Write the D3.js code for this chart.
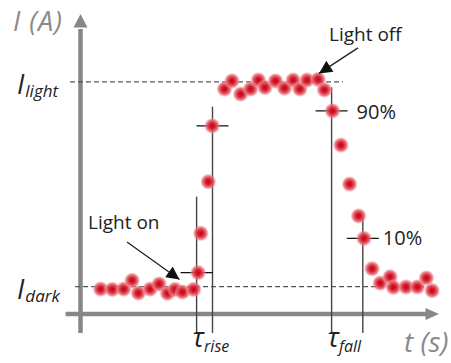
<!DOCTYPE html>
<html>
<head>
<meta charset="utf-8">
<script src="https://cdn.jsdelivr.net/npm/d3@7"></script>
<style>
  body { margin: 0; background: #fff; }
  svg { display: block; font-family: "Open Sans", "Noto Sans", sans-serif; }
</style>
</head>
<body>
<div id="chart"></div>
<script>
// photocurrent samples (arbitrary units)
const times = [0.67, 1.06, 1.44, 1.72, 1.93, 2.32, 2.62, 2.90, 3.15, 3.40, 3.77,
  3.92, 4.01, 4.26, 4.39,
  4.80, 5.05, 5.34, 5.67, 5.93, 6.15, 6.50, 6.80, 7.09, 7.31, 7.55, 7.92, 8.13,
  8.40, 8.68, 8.97, 9.27, 9.45, 9.72, 9.99, 10.32, 10.43, 10.85, 11.23, 11.53, 11.72];
const currents = [0.83, 0.82, 0.83, 1.12, 0.70, 0.83, 1.00, 0.69, 0.82, 0.73, 0.82,
  1.38, 2.69, 4.41, 6.27,
  7.50, 7.77, 7.33, 7.50, 7.80, 7.55, 7.77, 7.53, 7.80, 7.50, 7.80, 7.82, 7.47,
  6.77, 5.63, 4.33, 3.27, 2.52, 1.51, 1.03, 1.24, 0.89, 0.90, 0.90, 1.20, 0.78];

// reference levels
const levelNames = ["light", "dark"];
const levelValues = [7.74, 0.91];
const levelStart = [-0.35, -0.18];
const levelEnd = [8.75, 11.75];

// 10% / 90% crosshairs
const markerTimes = [3.87, 4.40, 8.37, 9.41];
const markerLevels = [1.38, 6.27, 6.77, 2.52];
const markerTops = [3.91, 6.91, 7.56, 3.21];
const markerBottom = -0.63;

// annotations
const noteTexts = ["Light on", "Light off"];
const noteTail = [[1.55, 2.40], [9.25, 8.87]];
const noteTip = [[3.30, 1.15], [7.95, 8.02]];

const width = 451, height = 363;

const x = d3.scaleLinear().domain([0, 12]).range([80.5, 440.5]);
const y = d3.scaleLinear().domain([0, 10]).range([314, 14]);

const svg = d3.select("#chart").append("svg")
  .attr("width", width)
  .attr("height", height);

const defs = svg.append("defs");
const grad = defs.append("radialGradient").attr("id", "dot");
grad.append("stop").attr("offset", "0%").attr("stop-color", "#c00015");
grad.append("stop").attr("offset", "40%").attr("stop-color", "#d82838");
grad.append("stop").attr("offset", "75%").attr("stop-color", "#e66670").attr("stop-opacity", 0.8);
grad.append("stop").attr("offset", "100%").attr("stop-color", "#f2a8ae").attr("stop-opacity", 0.15);

defs.append("marker")
  .attr("id", "head")
  .attr("viewBox", "0 0 10 10")
  .attr("refX", 10).attr("refY", 5)
  .attr("markerUnits", "userSpaceOnUse")
  .attr("markerWidth", 14).attr("markerHeight", 13)
  .attr("orient", "auto")
  .append("path")
  .attr("d", "M0,0 L10,5 L0,10 Z")
  .attr("fill", "#111");

// axes
const axisColor = "#878787";
svg.append("line")
  .attr("x1", x(0)).attr("x2", x(0))
  .attr("y1", y(-0.63)).attr("y2", y(9.5))
  .attr("stroke", axisColor).attr("stroke-width", 4.5);
svg.append("path")
  .attr("d", `M${x(0) - 7},${y(9.55)} L${x(0)},${y(10)} L${x(0) + 7},${y(9.55)} Z`)
  .attr("fill", axisColor);
svg.append("line")
  .attr("x1", x(-0.5)).attr("x2", x(11.55))
  .attr("y1", y(0)).attr("y2", y(0))
  .attr("stroke", axisColor).attr("stroke-width", 4.5);
svg.append("path")
  .attr("d", `M${x(11.5)},${y(0) - 6} L${x(11.95)},${y(0)} L${x(11.5)},${y(0) + 6} Z`)
  .attr("fill", axisColor);

svg.append("text")
  .attr("x", 13).attr("y", 31)
  .attr("font-size", 27).attr("font-style", "italic")
  .attr("letter-spacing", 1)
  .attr("fill", "#8a8a8a")
  .text("I (A)");
svg.append("text")
  .attr("x", 404).attr("y", 352)
  .attr("font-size", 28).attr("font-style", "italic")
  .attr("fill", "#8a8a8a")
  .text("t (s)");

// dashed level lines
svg.selectAll(".level")
  .data(levelValues)
  .join("line")
  .attr("class", "level")
  .attr("x1", (d, i) => x(levelStart[i]))
  .attr("x2", (d, i) => x(levelEnd[i]))
  .attr("y1", d => y(d)).attr("y2", d => y(d))
  .attr("stroke", "#555").attr("stroke-width", 1.2)
  .attr("stroke-dasharray", "5,3");

const levelLabel = svg.selectAll(".level-label")
  .data(levelValues)
  .join("text")
  .attr("class", "level-label")
  .attr("x", 17)
  .attr("y", d => y(d) + 12)
  .attr("font-style", "italic")
  .attr("fill", "#222");
levelLabel.append("tspan").attr("font-size", 27).text("I");
levelLabel.append("tspan").attr("font-size", 17).attr("dx", 1).attr("dy", 3)
  .text((d, i) => levelNames[i]);

// crosshair lines
svg.selectAll(".mv")
  .data(markerTimes)
  .join("line")
  .attr("class", "mv")
  .attr("x1", d => x(d)).attr("x2", d => x(d))
  .attr("y1", (d, i) => y(markerTops[i]))
  .attr("y2", y(markerBottom))
  .attr("stroke", "#444").attr("stroke-width", 1.4);
svg.selectAll(".mh")
  .data(markerTimes)
  .join("line")
  .attr("class", "mh")
  .attr("x1", d => x(d) - 16).attr("x2", d => x(d) + 16)
  .attr("y1", (d, i) => y(markerLevels[i]))
  .attr("y2", (d, i) => y(markerLevels[i]))
  .attr("stroke", "#111").attr("stroke-width", 1.4);

// data points
svg.selectAll(".pt")
  .data(times)
  .join("circle")
  .attr("class", "pt")
  .attr("cx", d => x(d))
  .attr("cy", (d, i) => y(currents[i]))
  .attr("r", 8)
  .attr("fill", "url(#dot)");

// percent labels
svg.append("text")
  .attr("x", x(markerTimes[2]) + 25).attr("y", y(markerLevels[2]) + 8)
  .attr("font-size", 20).attr("fill", "#222")
  .text("90%");
svg.append("text")
  .attr("x", x(markerTimes[3]) + 20).attr("y", y(markerLevels[3]) + 7)
  .attr("font-size", 20).attr("fill", "#222")
  .text("10%");

// tau labels
const tauNames = ["rise", "fall"];
const tauTimes = [markerTimes[0], markerTimes[2]];
const tau = svg.selectAll(".tau")
  .data(tauTimes)
  .join("text")
  .attr("class", "tau")
  .attr("x", d => x(d) - 4)
  .attr("y", 347)
  .attr("font-style", "italic")
  .attr("fill", "#222");
tau.append("tspan").attr("font-size", 27).text("τ");
tau.append("tspan").attr("font-size", 16).attr("dy", 5)
  .text((d, i) => tauNames[i]);

// annotations
svg.selectAll(".note-arrow")
  .data(noteTexts)
  .join("line")
  .attr("class", "note-arrow")
  .attr("x1", (d, i) => x(noteTail[i][0])).attr("y1", (d, i) => y(noteTail[i][1]))
  .attr("x2", (d, i) => x(noteTip[i][0])).attr("y2", (d, i) => y(noteTip[i][1]))
  .attr("stroke", "#222").attr("stroke-width", 1.3)
  .attr("marker-end", "url(#head)");
svg.append("text")
  .attr("x", 88).attr("y", 229)
  .attr("font-size", 19).attr("fill", "#222")
  .text(noteTexts[0]);
svg.append("text")
  .attr("x", 329).attr("y", 41)
  .attr("font-size", 19).attr("fill", "#222")
  .text(noteTexts[1]);
</script>
</body>
</html>
